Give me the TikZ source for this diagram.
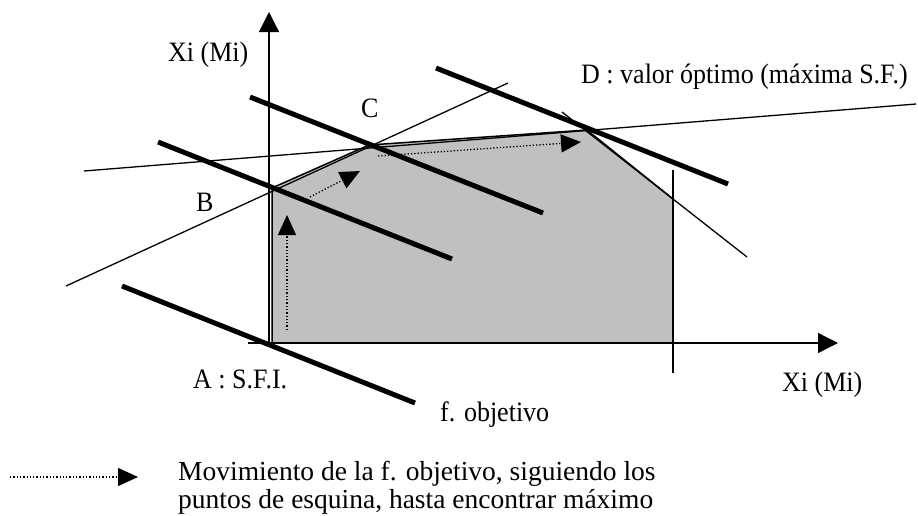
\documentclass[tikz,border=0pt]{standalone}
\usepackage{fontspec}
\setmainfont{Liberation Serif}
\usetikzlibrary{arrows.meta}
\definecolor{regiongray}{HTML}{C0C0C0}
\newcommand{\tallText}[1]{\scalebox{1}[1.08]{#1}}

\begin{document}
\begin{tikzpicture}[x=1pt,y=-1pt,
    thinline/.style={line width=1.3pt},
    objline/.style={line width=5pt},
    axisline/.style={line width=1.3pt,-{Triangle[length=20pt,width=20pt]}},
    movearrow/.style={line width=1.3pt,dash pattern=on 1.3pt off 2pt,-{Triangle[length=20pt,width=18pt]}},
    lbl/.style={inner sep=0pt,anchor=base west,font=\fontsize{26}{26}\selectfont},
    legtext/.style={inner sep=0pt,anchor=base west,font=\fontsize{27.5}{27.5}\selectfont}]
  \useasboundingbox (0,0) rectangle (918,515);
  % corner points of the feasible region
  \coordinate (A) at (272,343);
  \coordinate (B) at (272,188);
  \coordinate (C) at (369,145);
  \coordinate (D) at (587,130);
  \coordinate (E) at (673,199);
  \coordinate (F) at (673,343);
  \filldraw[fill=regiongray,line width=1.5pt,line join=round] (A) -- (B) -- (C) -- (D) -- (E) -- (F) -- cycle;
  % constraints
  \draw[thinline] (66,286) -- (508,83);
  \draw[thinline] (84,171) -- (916,104);
  \draw[thinline] (562,112) -- (747,257);
  \draw[thinline] (673,170) -- (673,373);
  % axes
  \coordinate (O) at (269,343);
  \draw[axisline] (248,343) -- (838,343);
  \draw[axisline] (O) -- (269,12);
  % objective function, moved to each corner
  \draw[objline] (122,286) -- (415,403);
  \draw[objline] (158,142) -- (452,259);
  \draw[objline] (250,97) -- (543,213);
  \draw[objline] (436,68) -- (728,184);
  % movement of the objective function
  \draw[movearrow] (287,330) -- (287,215);
  \draw[movearrow] (310,197) -- (360,171);
  \draw[movearrow] (378,156) -- (581,142);
  % labels
  \node[lbl] (ylab) at (168,61) {\tallText{Xi (Mi)}};
  \node[lbl] (xlab) at (782,391) {\tallText{Xi (Mi)}};
  \node[lbl] (labA) at (193,388) {\tallText{A : S.F.I.}};
  \node[lbl] (labB) at (196,211) {\tallText{B}};
  \node[lbl] (labC) at (361,117) {\tallText{C}};
  \node[lbl] (labD) at (581,83) {\tallText{D : valor óptimo (máxima S.F.)}};
  \node[lbl] (labobj) at (440,421) {\tallText{f. objetivo}};
  % legend
  \coordinate (legstart) at (10,477);
  \coordinate (legend) at (138,477);
  \draw[movearrow] (legstart) -- (legend);
  \node[legtext] (legtop) at (178,480) {Movimiento de la f. objetivo, siguiendo los};
  \node[legtext] (legbot) at (178,508) {puntos de esquina, hasta encontrar máximo};
\end{tikzpicture}
\end{document}
